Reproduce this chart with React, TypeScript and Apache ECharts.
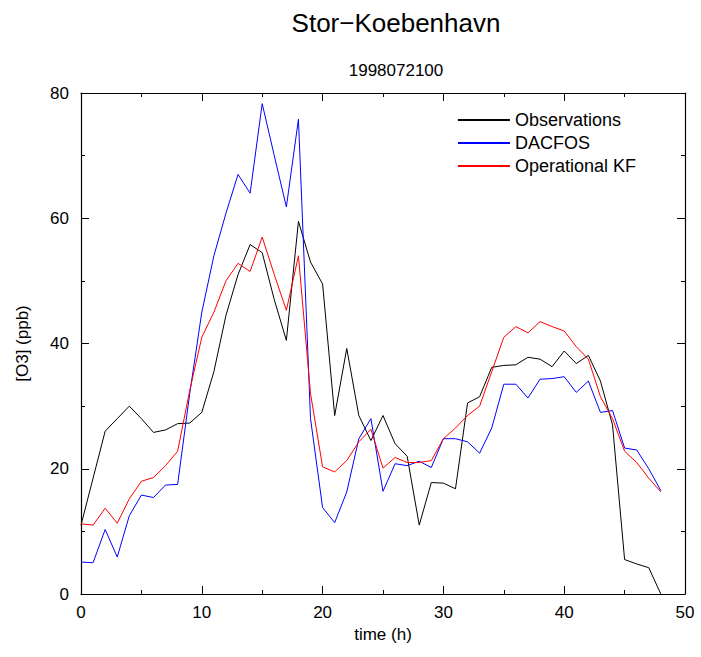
import React, { useEffect, useRef } from "react";
import * as echarts from "echarts";

const hours = Array.from({ length: 49 }, (_, i) => i);
const observations = [11, 18.5, 26, 28, 30, 28, 25.8, 26.2, 27.2, 27.3, 29, 35.5, 44.5, 51, 55.8, 54.5, 47, 40.5, 59.5, 53, 49.5, 28.5, 39.2, 28.5, 24.5, 28.5, 24, 22, 11, 17.8, 17.7, 16.8, 30.5, 31.5, 36.2, 36.5, 36.6, 37.8, 37.5, 36.3, 38.8, 36.8, 38.1, 34, 27, 5.5, 4.8, 4.2, 0];
const dacfos = [5.1, 5, 10.3, 5.9, 12.5, 15.8, 15.4, 17.4, 17.5, 32, 45, 54, 60.8, 67, 64, 78.3, 70, 61.8, 75.8, 28, 13.8, 11.4, 16.3, 24.8, 28, 16.4, 20.8, 20.5, 21.2, 20.2, 24.8, 24.8, 24.3, 22.5, 26.5, 33.5, 33.5, 31.3, 34.3, 34.4, 34.7, 32.2, 34, 29, 29.3, 23.3, 23, 20, 16.5];
const operationalKF = [11.2, 11, 13.7, 11.3, 15.2, 18, 18.6, 20.5, 22.8, 32.5, 41, 45, 50, 52.8, 51.5, 57, 51, 45.3, 54, 32, 20.3, 19.5, 21.3, 24.3, 26.3, 20.1, 21.8, 21, 21, 21.3, 24.8, 26.5, 28.5, 30, 35.5, 41, 42.7, 41.7, 43.5, 42.7, 42, 39.5, 37.5, 31.5, 28, 22.8, 21, 18.5, 16.3];

const font = "Liberation Sans, Arial, sans-serif";

export default function App() {
  const ref = useRef<HTMLDivElement>(null);
  useEffect(() => {
    const chart = echarts.init(ref.current!, undefined, { renderer: "svg" });
    const mk = (name: string, data: number[], color: string) => ({
      name, type: "line", data: hours.map((h, i) => [h, data[i]]), symbol: "none",
      lineStyle: { color, width: 1 }, itemStyle: { color },
    });
    const axisCommon = {
      axisLine: { show: true, onZero: false, lineStyle: { color: "#000", width: 1.2 } },
      axisTick: { show: true, inside: true, length: 8, lineStyle: { color: "#000" } },
      minorTick: { show: true, splitNumber: 2, length: 4, lineStyle: { color: "#000" } },
      splitLine: { show: false },
    };
    chart.setOption({
      animation: false,
      backgroundColor: "#fff",
      title: [
        { text: "Stor\u2212Koebenhavn", left: 391, top: 5, textAlign: "center", textStyle: { fontFamily: font, fontSize: 26, fontWeight: "normal", color: "#000" } },
        { text: "1998072100", left: 391, top: 57, textAlign: "center", textStyle: { fontFamily: font, fontSize: 17, fontWeight: "normal", color: "#000" } },
      ],
      legend: {
        right: 60, top: 106, orient: "vertical", itemWidth: 52, itemHeight: 2, itemGap: 5,
        icon: "rect", align: "left",
        textStyle: { fontFamily: font, fontSize: 18, color: "#000" },
        data: ["Observations", "DACFOS", "Operational KF"],
      },
      grid: { left: 81, right: 16, top: 93, bottom: 63 },
      xAxis: [
        { type: "value", position: "bottom", min: 0, max: 50, interval: 10, name: "time (h)", nameLocation: "middle", nameGap: 32,
          nameTextStyle: { fontFamily: font, fontSize: 17, color: "#000" },
          axisLabel: { fontFamily: font, fontSize: 17, color: "#000", margin: 10 }, ...axisCommon },
        { type: "value", position: "top", min: 0, max: 50, interval: 10, axisLabel: { show: false }, ...axisCommon },
      ],
      yAxis: [
        { type: "value", position: "left", min: 0, max: 80, interval: 20, name: "[O3] (ppb)", nameLocation: "middle", nameGap: 50,
          nameTextStyle: { fontFamily: font, fontSize: 17, color: "#000" },
          axisLabel: { fontFamily: font, fontSize: 17, color: "#000", margin: 12 }, ...axisCommon },
        { type: "value", position: "right", min: 0, max: 80, interval: 20, axisLabel: { show: false }, ...axisCommon },
      ],
      series: [
        mk("Observations", observations, "#000000"),
        mk("DACFOS", dacfos, "#0000ff"),
        mk("Operational KF", operationalKF, "#ff0000"),
      ],
    });
    return () => chart.dispose();
  }, []);
  return <div ref={ref} style={{ width: 701, height: 657, position: "absolute", left: 0, top: 0 }} />;
}
